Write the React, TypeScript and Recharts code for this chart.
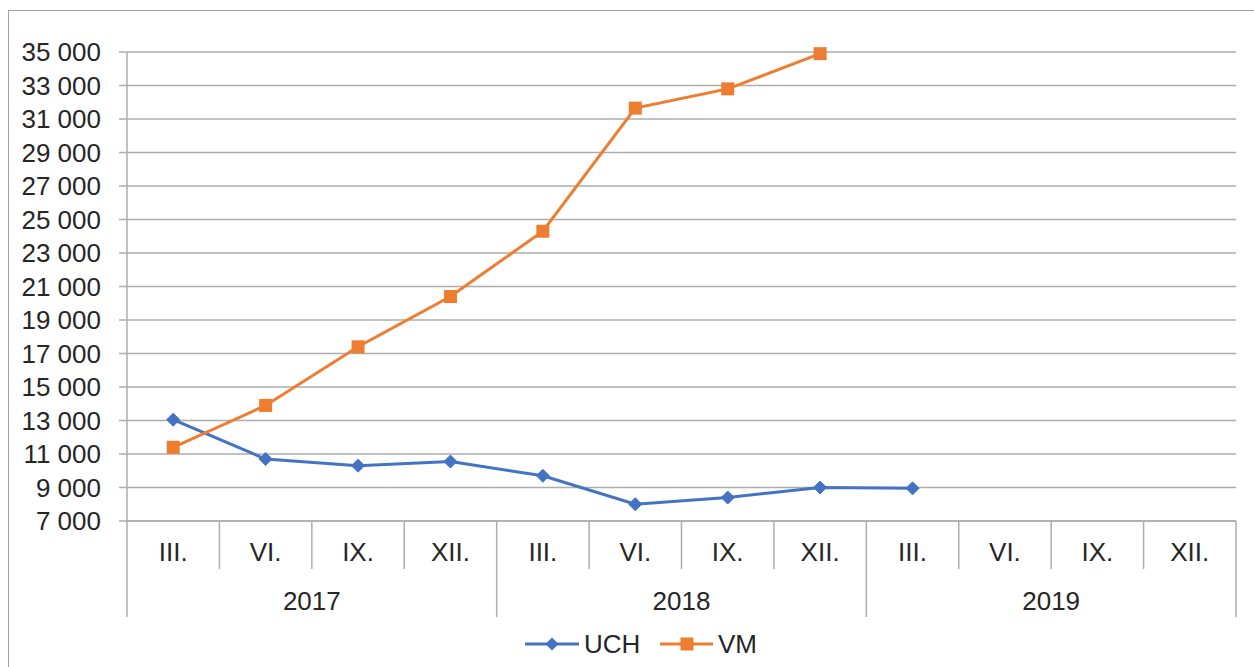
import { CartesianGrid, Line, LineChart, XAxis, YAxis } from 'recharts'

const months = ['III.', 'VI.', 'IX.', 'XII.', 'III.', 'VI.', 'IX.', 'XII.', 'III.', 'VI.', 'IX.', 'XII.']
const years = ['2017', '2017', '2017', '2017', '2018', '2018', '2018', '2018', '2019', '2019', '2019', '2019']
const uch = [13050, 10700, 10300, 10550, 9700, 8000, 8400, 9000, 8950, null, null, null]
const vm = [11400, 13900, 17400, 20400, 24300, 31650, 32800, 34900, null, null, null, null]
const yTicks = [7000, 9000, 11000, 13000, 15000, 17000, 19000, 21000, 23000, 25000, 27000, 29000, 31000, 33000, 35000]

const data = months.map((m, i) => ({
  id: `${years[i]}-${m}`,
  month: m,
  year: years[i],
  UCH: uch[i],
  VM: vm[i],
}))

const FONT = '"Liberation Sans", Arial, sans-serif'
const TEXT = '#262626'
const GRID = '#ADADAD'
const BLUE = '#4472C4'
const ORANGE = '#ED7D31'

const fmt = (v: number) => String(v).replace(/\B(?=(\d{3})+(?!\d))/g, ' ')

function CategoryTick(props: any) {
  const { x, y, payload, index } = props
  const half = payload?.offset || 46
  const d = data[index]
  const left = x - half
  const right = x + half
  const startsYear = index % 4 === 0
  const last = index === data.length - 1
  return (
    <g>
      <line x1={left} y1={y} x2={left} y2={y + (startsYear ? 96 : 48)} stroke={GRID} strokeWidth={1.5} />
      {last && <line x1={right} y1={y} x2={right} y2={y + 96} stroke={GRID} strokeWidth={1.5} />}
      <text x={x} y={y + 40} textAnchor="middle" fill={TEXT} fontSize={26} fontFamily={FONT}>
        {d.month}
      </text>
      {index % 4 === 1 && (
        <text x={right} y={y + 89} textAnchor="middle" fill={TEXT} fontSize={26} fontFamily={FONT}>
          {d.year}
        </text>
      )}
    </g>
  )
}

function diamondDot(props: any) {
  const { cx, cy, index, value } = props
  if (cx == null || cy == null || value == null) return <g key={`d${index}`} />
  const r = 6.5
  return (
    <path
      key={`d${index}`}
      d={`M${cx},${cy - r}L${cx + r},${cy}L${cx},${cy + r}L${cx - r},${cy}Z`}
      fill={BLUE}
      stroke={BLUE}
    />
  )
}

function squareDot(props: any) {
  const { cx, cy, index, value } = props
  if (cx == null || cy == null || value == null) return <g key={`s${index}`} />
  const h = 6.5
  return <rect key={`s${index}`} x={cx - h} y={cy - h} width={h * 2} height={h * 2} fill={ORANGE} />
}

export default function App() {
  return (
    <div style={{ position: 'absolute', left: 0, top: 0, width: 1254, height: 667, background: '#fff', overflow: 'hidden' }}>
      <div
        style={{
          position: 'absolute',
          left: 8,
          top: 10,
          width: 1300,
          height: 700,
          borderTop: '1.5px solid #A0A0A0',
          borderLeft: '1.5px solid #A0A0A0',
        }}
      />
      <div style={{ position: 'absolute', left: 0, top: 0 }}>
        <LineChart width={1254} height={667} data={data} margin={{ top: 52, right: 18, left: 0, bottom: 0 }}>
          <CartesianGrid horizontal vertical={false} stroke={GRID} strokeWidth={1.5} />
          <XAxis
            dataKey="id"
            scale="band"
            interval={0}
            height={146}
            tickLine={false}
            tickSize={0}
            tickMargin={0}
            axisLine={{ stroke: GRID, strokeWidth: 1.5 }}
            tick={<CategoryTick />}
          />
          <YAxis
            width={127}
            domain={[7000, 35000]}
            ticks={yTicks}
            interval={0}
            tickFormatter={fmt}
            tickSize={8}
            tickMargin={18}
            tickLine={{ stroke: GRID, strokeWidth: 1.5 }}
            axisLine={{ stroke: GRID, strokeWidth: 1.5 }}
            tick={{ fill: TEXT, fontSize: 26, fontFamily: FONT }}
          />
          <Line
            type="linear"
            dataKey="UCH"
            stroke={BLUE}
            strokeWidth={3}
            dot={diamondDot}
            activeDot={false}
            isAnimationActive={false}
          />
          <Line
            type="linear"
            dataKey="VM"
            stroke={ORANGE}
            strokeWidth={3}
            dot={squareDot}
            activeDot={false}
            isAnimationActive={false}
          />
        </LineChart>
      </div>
      <svg style={{ position: 'absolute', left: 0, top: 620 }} width={1254} height={47}>
        <line x1={525} y1={24} x2={579} y2={24} stroke={BLUE} strokeWidth={3} />
        <path d="M552,17.5L558.5,24L552,30.5L545.5,24Z" fill={BLUE} />
        <text x={584} y={33} fill={TEXT} fontSize={26} fontFamily={FONT}>UCH</text>
        <line x1={660} y1={24} x2={713} y2={24} stroke={ORANGE} strokeWidth={3} />
        <rect x={680.5} y={17.5} width={13} height={13} fill={ORANGE} />
        <text x={718} y={33} fill={TEXT} fontSize={26} fontFamily={FONT}>VM</text>
      </svg>
    </div>
  )
}
